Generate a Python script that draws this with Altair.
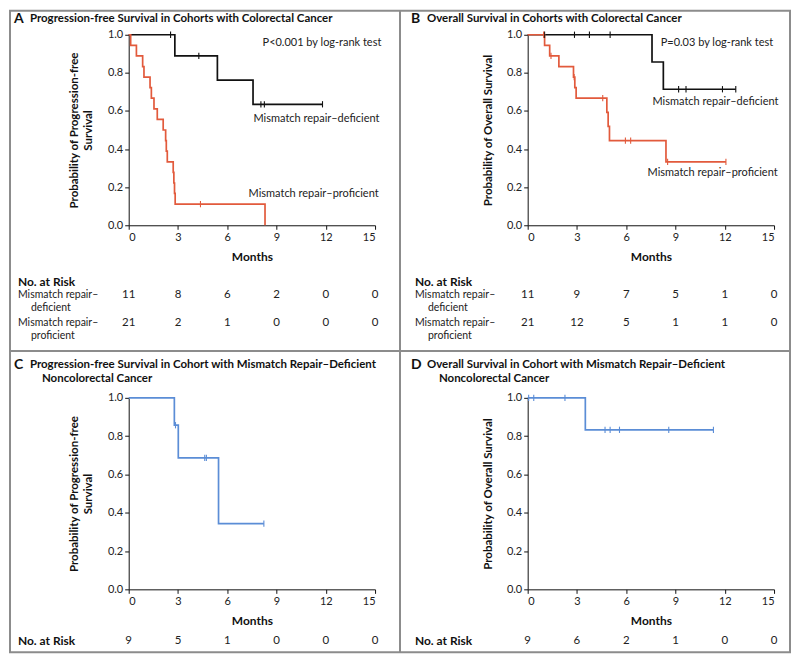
import altair as alt
import pandas as pd

FONT = "Lato"
BLACK = "#111111"
RED = "#e25a3c"
BLUE = "#5b8dd6"
FRAME = "#8c8c8c"

month_ticks = [0, 3, 6, 9, 12, 15]
prob_ticks = [0.0, 0.2, 0.4, 0.6, 0.8, 1.0]

group_names = ["Mismatch repair–deficient", "Mismatch repair–proficient",
               "Mismatch repair–deficient noncolorectal"]
group_colors = [BLACK, RED, BLUE]

# ---------- Panel A: PFS, colorectal ----------
a_def_time = [0, 2.81, 5.40, 7.57, 11.80]
a_def_surv = [1.0, 0.889, 0.762, 0.635, 0.635]
a_def_cens_time = [2.55, 4.27, 8.05, 8.26, 11.80]
a_def_cens_surv = [1.0, 0.889, 0.635, 0.635, 0.635]
a_pro_time = [0, 0.12, 0.47, 0.85, 0.93, 1.30, 1.38, 1.54, 1.74, 2.10, 2.25, 2.29,
              2.35, 2.71, 2.75, 2.79, 2.83, 8.30]
a_pro_surv = [1.0, 0.944, 0.889, 0.833, 0.778, 0.722, 0.667, 0.611, 0.556, 0.500,
              0.444, 0.389, 0.333, 0.278, 0.222, 0.167, 0.111, 0.0]
a_pro_cens_time = [4.37]
a_pro_cens_surv = [0.111]
a_risk_def = [11, 8, 6, 2, 0, 0]
a_risk_pro = [21, 2, 1, 0, 0, 0]

# ---------- Panel B: OS, colorectal ----------
b_def_time = [0, 7.57, 8.26, 12.67]
b_def_surv = [1.0, 0.857, 0.714, 0.714]
b_def_cens_time = [1.03, 2.85, 3.76, 5.02, 9.19, 9.64, 11.86, 12.67]
b_def_cens_surv = [1.0, 1.0, 1.0, 1.0, 0.714, 0.714, 0.714, 0.714]
b_pro_time = [0, 1.03, 1.34, 1.90, 2.79, 2.87, 2.95, 4.82, 4.90, 4.98, 8.42, 12.07]
b_pro_surv = [1.0, 0.944, 0.889, 0.833, 0.778, 0.722, 0.667, 0.593, 0.519, 0.444,
              0.333, 0.333]
b_pro_cens_time = [0.97, 1.42, 2.83, 4.57, 5.95, 6.27, 8.52, 12.07]
b_pro_cens_surv = [1.0, 0.889, 0.778, 0.667, 0.444, 0.444, 0.333, 0.333]
b_risk_def = [11, 9, 7, 5, 1, 0]
b_risk_pro = [21, 12, 5, 1, 1, 0]

# ---------- Panel C: PFS, noncolorectal ----------
c_time = [0, 2.78, 3.02, 5.47, 8.23]
c_surv = [1.0, 0.857, 0.686, 0.343, 0.343]
c_cens_time = [2.85, 4.63, 4.73, 8.23]
c_cens_surv = [0.857, 0.686, 0.686, 0.343]
c_risk = [9, 5, 1, 0, 0, 0]

# ---------- Panel D: OS, noncolorectal ----------
d_time = [0, 3.51, 11.31]
d_surv = [1.0, 0.833, 0.833]
d_cens_time = [0.06, 0.37, 2.27, 4.71, 5.02, 5.59, 8.59, 11.31]
d_cens_surv = [1.0, 1.0, 1.0, 0.833, 0.833, 0.833, 0.833, 0.833]
d_risk = [9, 6, 2, 1, 0, 0]

W = 247
CSCALE = alt.Scale(domain=group_names, range=group_colors)


def curve_df(groups):
    rows = []
    for g, ts, ss in groups:
        for t, s in zip(ts, ss):
            rows.append({"g": g, "t": t, "s": s})
    return pd.DataFrame(rows)


def panel(height, curves, cens, ytitle, title_lines, letter, risk_rows,
          risk_labels, annotations, ytitle_pad, extra=None):
    xs = alt.Scale(domain=[0, 15], nice=False)
    ys = alt.Scale(domain=[0, 1], nice=False)
    xaxis = alt.Axis(values=month_ticks, format="d", title="Months", grid=False,
                     tickSize=4, labelPadding=2, titlePadding=9, labelOverlap=False,
                     labelFontSize=11, titleFontSize=12, titleFontWeight="bold",
                     domainColor=BLACK, tickColor=BLACK, labelColor="#222222",
                     titleColor=BLACK, labelFont=FONT, titleFont=FONT)
    yaxis = alt.Axis(values=prob_ticks, format=".1f", title=ytitle, grid=False,
                     tickSize=4, labelPadding=2, titlePadding=ytitle_pad,
                     labelOverlap=False, tickCount=6,
                     labelFontSize=11, titleFontSize=11.5, titleFontWeight="bold",
                     titleLineHeight=14,
                     domainColor=BLACK, tickColor=BLACK, labelColor="#222222",
                     titleColor=BLACK, labelFont=FONT, titleFont=FONT)
    X = alt.X("t:Q", scale=xs, axis=xaxis)
    Y = alt.Y("s:Q", scale=ys, axis=yaxis)
    lines = alt.Chart(curve_df(curves)).mark_line(
        interpolate="step-after", strokeWidth=1.7
    ).encode(x=X, y=Y, color=alt.Color("g:N", scale=CSCALE, legend=None))
    ticks = alt.Chart(curve_df(cens)).mark_point(
        shape="M0,-1V1", size=40, filled=False, strokeWidth=1.1, opacity=1
    ).encode(x=X, y=Y, color=alt.Color("g:N", scale=CSCALE, legend=None))
    layers = [lines, ticks]

    # numbers at risk, positioned with the month scale
    for ypix, vals in risk_rows:
        df = pd.DataFrame({"t": month_ticks, "n": vals})
        layers.append(alt.Chart(df).mark_text(
            font=FONT, fontSize=11.5, color="#222222", baseline="middle", align="center"
        ).encode(x=X, y=alt.value(ypix), text="n:Q"))

    # in-plot annotations in data coordinates
    if annotations:
        adf = pd.DataFrame(annotations, columns=["t", "s", "label"])
        layers.append(alt.Chart(adf).mark_text(
            font=FONT, fontSize=11, color="#222222", align="left", baseline="middle"
        ).encode(x=X, y=Y, text="label:N"))

    one = pd.DataFrame({"a": [0]})
    # letter + title
    layers.append(alt.Chart(one).mark_text(
        text=letter, font=FONT, fontSize=14, fontWeight="bold", color=BLACK,
        align="left", baseline="middle"
    ).encode(x=alt.value(title_lines[0][0] - 16), y=alt.value(title_lines[0][1])))
    for tx, ty, txt in title_lines:
        layers.append(alt.Chart(one).mark_text(
            text=txt, font=FONT, fontSize=11.5, fontWeight="bold", color=BLACK,
            align="left", baseline="middle"
        ).encode(x=alt.value(tx), y=alt.value(ty)))
    # risk table labels
    for tx, ty, txt, bold in risk_labels:
        layers.append(alt.Chart(one).mark_text(
            text=txt, font=FONT, fontSize=12 if bold else 10.5,
            fontWeight="bold" if bold else "normal", color=BLACK if bold else "#222222",
            align="left", baseline="middle"
        ).encode(x=alt.value(tx), y=alt.value(ty)))
    if extra:
        layers.extend(extra)
    return alt.layer(*layers).properties(width=W, height=height)


one = pd.DataFrame({"a": [0]})
frame = [
    alt.Chart(one).mark_rect(fillOpacity=0, stroke=FRAME, strokeWidth=2).encode(
        x=alt.value(-119), x2=alt.value(663), y=alt.value(-24), y2=alt.value(619)),
    alt.Chart(one).mark_rule(stroke=FRAME, strokeWidth=2).encode(
        x=alt.value(272), x2=alt.value(272), y=alt.value(-24), y2=alt.value(619)),
    alt.Chart(one).mark_rule(stroke=FRAME, strokeWidth=2).encode(
        x=alt.value(-119), x2=alt.value(663), y=alt.value(317), y2=alt.value(317)),
]

DEF, PRO, NCR = group_names

pA = panel(
    191,
    [(DEF, a_def_time, a_def_surv), (PRO, a_pro_time, a_pro_surv)],
    [(DEF, a_def_cens_time, a_def_cens_surv), (PRO, a_pro_cens_time, a_pro_cens_surv)],
    ["Probability of Progression-free", "Survival"],
    [(-99, -16, "Progression-free Survival in Cohorts with Colorectal Cancer")],
    "A",
    [(261, a_risk_def), (289, a_risk_pro)],
    [(-111, 248, "No. at Risk", True),
     (-111, 261, "Mismatch repair–", False), (-98, 274, "deficient", False),
     (-111, 289, "Mismatch repair–", False), (-98, 302, "proficient", False)],
    [(8.15, 0.955, "P<0.001 by log-rank test"),
     (7.6, 0.56, "Mismatch repair–deficient"),
     (7.3, 0.162, "Mismatch repair–proficient")],
    14,
    extra=frame,
)

pB = panel(
    191,
    [(DEF, b_def_time, b_def_surv), (PRO, b_pro_time, b_pro_surv)],
    [(DEF, b_def_cens_time, b_def_cens_surv), (PRO, b_pro_cens_time, b_pro_cens_surv)],
    "Probability of Overall Survival",
    [(-101, -16, "Overall Survival in Cohorts with Colorectal Cancer")],
    "B",
    [(261, b_risk_def), (289, b_risk_pro)],
    [(-113, 248, "No. at Risk", True),
     (-113, 261, "Mismatch repair–", False), (-100, 274, "deficient", False),
     (-113, 289, "Mismatch repair–", False), (-100, 302, "proficient", False)],
    [(8.1, 0.955, "P=0.03 by log-rank test"),
     (7.6, 0.649, "Mismatch repair–deficient"),
     (7.3, 0.272, "Mismatch repair–proficient")],
    13,
)

pC = panel(
    192,
    [(NCR, c_time, c_surv)],
    [(NCR, c_cens_time, c_cens_surv)],
    ["Probability of Progression-free", "Survival"],
    [(-99, -33, "Progression-free Survival in Cohort with Mismatch Repair–Deficient"),
     (-87, -19, "Noncolorectal Cancer")],
    "C",
    [(244, c_risk)],
    [(-111, 244, "No. at Risk", True)],
    [],
    14,
)

pD = panel(
    192,
    [(NCR, d_time, d_surv)],
    [(NCR, d_cens_time, d_cens_surv)],
    "Probability of Overall Survival",
    [(-101, -33, "Overall Survival in Cohort with Mismatch Repair–Deficient"),
     (-89, -19, "Noncolorectal Cancer")],
    "D",
    [(244, d_risk)],
    [(-113, 244, "No. at Risk", True)],
    [],
    13,
)

chart = alt.concat(
    pA, pB, pC, pD, columns=2, spacing={"row": 173, "column": 153}, bounds="flush"
).configure(padding=0, background="white").configure_view(
    stroke="transparent"
).configure_axis(labelOverlap=False)

chart.save("out.html", embed_options={"renderer": "svg", "actions": False})
